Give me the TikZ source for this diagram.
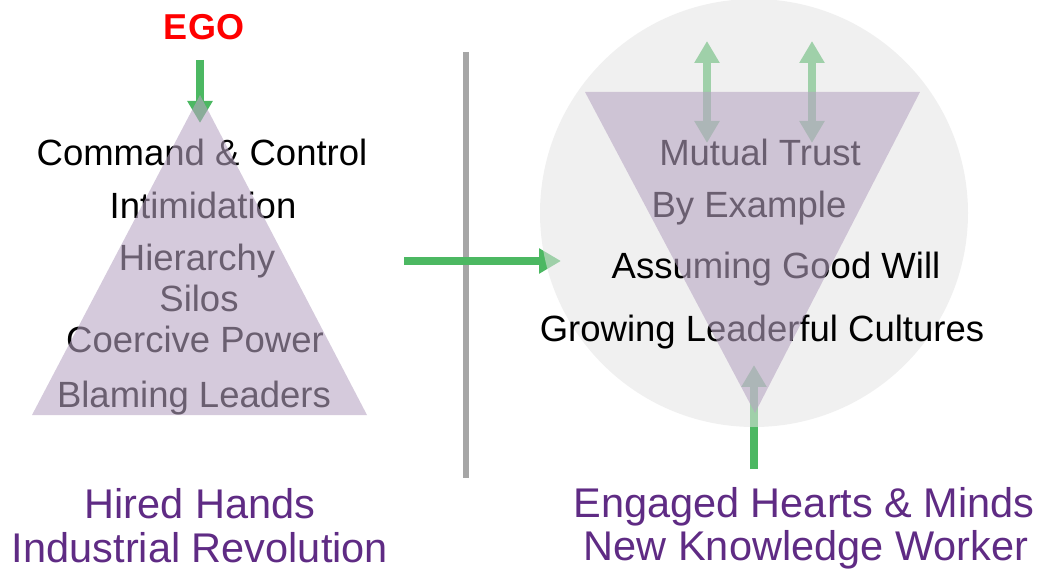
\documentclass[tikz,border=0pt]{standalone}
\usepackage{fontspec}
\setmainfont{Liberation Sans}
\usetikzlibrary{arrows.meta}
\definecolor{grn}{RGB}{76,184,98}
\definecolor{lav}{RGB}{183,164,194}
\definecolor{capcol}{RGB}{95,43,132}
\definecolor{egored}{RGB}{255,0,0}
\definecolor{divgrey}{RGB}{166,166,166}
\definecolor{circgrey}{RGB}{228,228,228}
\tikzset{
  lbl/.style={inner sep=0pt, anchor=base, font=\fontsize{36.5}{40}\selectfont, text=black},
  caplbl/.style={inner sep=0pt, anchor=base, font=\fontsize{41.5}{44}\selectfont, text=capcol},
  egolbl/.style={inner sep=0pt, anchor=base, font=\fontsize{36}{40}\selectfont\bfseries, text=egored},
  garrow/.style={draw=grn, line width=8pt, -{Triangle[length=22pt,width=24pt]}},
  gdarrow/.style={draw=grn, line width=8pt, {Triangle[length=22pt,width=24pt]}-{Triangle[length=22pt,width=24pt]}},
  tri/.style={fill=lav, fill opacity=0.58, draw=none},
}
\begin{document}
\begin{tikzpicture}[x=1pt,y=-1pt]
\useasboundingbox (0,0) rectangle (1042,569);
% divider
\coordinate (divtop) at (466,52);
\coordinate (divbot) at (466,478);
\draw[divgrey, line width=6pt] (divtop) -- (divbot);
% arrows
\node[egolbl] (ego) at (204,40) {EGO};
\coordinate (egoA) at (200,60);
\coordinate (egoB) at (200,123);
\draw[garrow] (egoA) -- (egoB);
\coordinate (hA) at (404,261);
\coordinate (hB) at (561,261);
\draw[garrow] (hA) -- (hB);
\coordinate (u1a) at (707,143);
\coordinate (u1b) at (707,41);
\coordinate (u2a) at (812,143);
\coordinate (u2b) at (812,41);
\draw[gdarrow] (u1a) -- (u1b);
\draw[gdarrow] (u2a) -- (u2b);
\coordinate (bA) at (754,469);
\coordinate (bB) at (754,365);
\draw[garrow] (bA) -- (bB);
% circle
\node[circle, minimum size=428pt, inner sep=0pt, fill=circgrey, fill opacity=0.55] (circ) at (754,213) {};
% left texts
\node[lbl] (t1) at (202,166) {Command \& Control};
\node[lbl] (t2) at (203,219) {Intimidation};
\node[lbl] (t3) at (197,271) {Hierarchy};
\node[lbl] (t4) at (199,312) {Silos};
\node[lbl] (t5) at (195,353) {Coercive Power};
\node[lbl] (t6) at (194,407) {Blaming Leaders};
% right texts
\node[lbl] (r1) at (760,166) {Mutual Trust};
\node[lbl] (r2) at (749,218) {By Example};
\node[lbl] (r3) at (776,279) {Assuming Good Will};
\node[lbl] (r4) at (762,342) {Growing Leaderful Cultures};
% captions
\node[caplbl] (c1) at (200,518) {Hired Hands};
\node[caplbl] (c2) at (200,562) {Industrial Revolution};
\node[caplbl] (c3) at (804,517) {Engaged Hearts \& Minds};
\node[caplbl] (c4) at (806,560) {New Knowledge Worker};
% triangles
\fill[tri] (200,95) -- (367,415) -- (32,415) -- cycle;
\fill[tri] (585,92) -- (920,92) -- (755,413) -- cycle;
\end{tikzpicture}
\end{document}
